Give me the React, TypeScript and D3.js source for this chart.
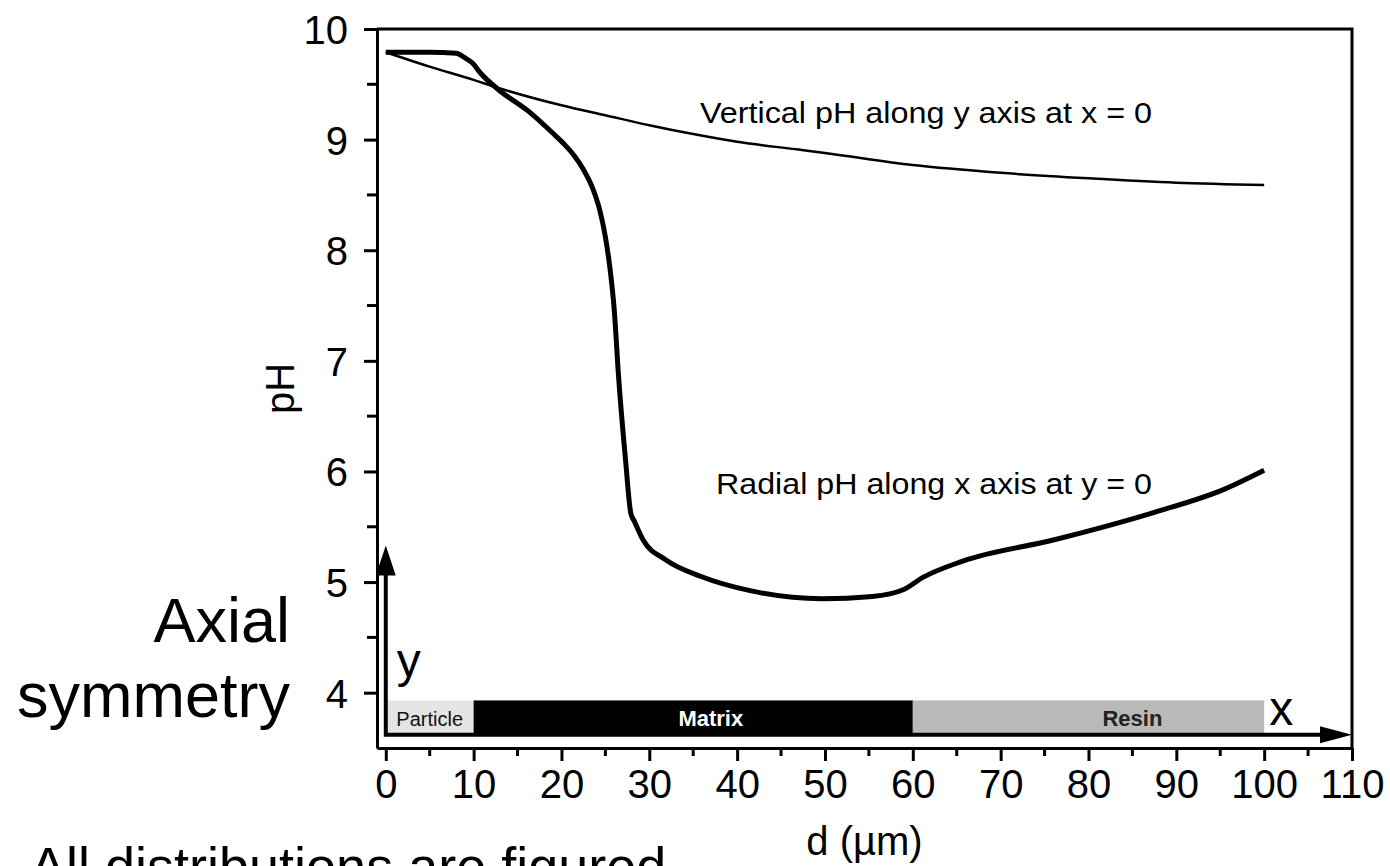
import * as d3 from 'd3';
import React, { useEffect, useRef } from 'react';

// pH along y axis at x = 0 (thin line)
const vertD = [0, 5, 10, 12.7, 20, 25, 30, 35, 40, 47, 50, 60, 70, 80, 90, 100];
const vertPH = [9.79, 9.66, 9.54, 9.47, 9.31, 9.22, 9.13, 9.05, 8.98, 8.91, 8.88, 8.77, 8.70, 8.65, 8.61, 8.59];

// pH along x axis at y = 0 (thick line)
const radD = [0, 5, 8, 9, 9.9, 10.8, 12.7, 16.5, 19, 20.3, 21.5, 22.5, 23.5, 24.4, 25, 25.5, 26, 26.5, 27.3, 27.9, 28.3, 29.3, 31.9, 35.9, 41.6, 49.7, 55.4, 58.9, 61.1, 65.7, 76, 87.5, 95.5, 100];
const radPH = [9.79, 9.79, 9.78, 9.74, 9.69, 9.60, 9.46, 9.24, 9.06, 8.96, 8.85, 8.73, 8.57, 8.35, 8.12, 7.85, 7.47, 6.86, 6.10, 5.62, 5.55, 5.38, 5.20, 5.05, 4.92, 4.85, 4.87, 4.93, 5.04, 5.19, 5.38, 5.63, 5.84, 6.01];

// material zones drawn along the bottom
const zoneNames = ['Particle', 'Matrix', 'Resin'];
const zoneStart = [0, 10, 60];
const zoneEnd = [10, 60, 100];

const xTicks = [0, 10, 20, 30, 40, 50, 60, 70, 80, 90, 100, 110];
const xMinor = [5, 15, 25, 35, 45, 55, 65, 75, 85, 95, 105];
const yTicks = [4, 5, 6, 7, 8, 9, 10];
const yMinor = [4.5, 5.5, 6.5, 7.5, 8.5, 9.5];

const App = () => {
    const ref = useRef<SVGSVGElement>(null);
    const W = 1390, H = 866;
    const margin = { top: 29, right: 38, bottom: 118, left: 377 };
    const font = "'Liberation Sans', Arial, sans-serif";

    useEffect(() => {
        const svg = d3.select(ref.current);
        svg.selectAll('*').remove();

        const x = d3.scaleLinear().domain([-1, 110]).range([margin.left, W - margin.right]);
        const y = d3.scaleLinear().domain([3.5, 10]).range([H - margin.bottom, margin.top]);

        svg.append('rect').attr('width', W).attr('height', H).attr('fill', '#fff');

        // zone bars
        const barTop = 3.93, barBot = 3.62;
        const zoneFill = ['#e4e4e4', '#000', '#b9b9b9'];
        const zoneText = ['#111', '#fff', '#222'];
        zoneNames.forEach((name, i) => {
            svg.append('rect')
                .attr('x', x(zoneStart[i]))
                .attr('y', y(barTop))
                .attr('width', x(zoneEnd[i]) - x(zoneStart[i]))
                .attr('height', y(barBot) - y(barTop))
                .attr('fill', zoneFill[i]);
        });
        // labels of zones
        const labX = [5, 37, 85];
        zoneNames.forEach((name, i) => {
            svg.append('text')
                .attr('x', x(labX[i]))
                .attr('y', y(barBot) - 9)
                .attr('text-anchor', 'middle')
                .attr('font-family', font)
                .attr('font-size', i === 0 ? 20 : 22)
                .attr('font-weight', i === 0 ? 'normal' : 'bold')
                .attr('fill', zoneText[i])
                .text(name);
        });

        // coordinate arrows (y up at x=0, x right along bottom)
        const tipY = 5.33;
        svg.append('path')
            .attr('d', d3.line()([[x(0), y(tipY) + 26], [x(0), y(barBot)], [x(110) - 28, y(barBot)]]))
            .attr('fill', 'none')
            .attr('stroke', '#000')
            .attr('stroke-width', 4);
        svg.append('path')
            .attr('d', d3.line()([[x(0), y(tipY)], [x(0) - 10, y(tipY) + 30], [x(0) + 10, y(tipY) + 30]]) + 'Z')
            .attr('fill', '#000');
        svg.append('path')
            .attr('d', d3.line()([[x(110), y(barBot)], [x(110) - 32, y(barBot) - 8.5], [x(110) - 32, y(barBot) + 8.5]]) + 'Z')
            .attr('fill', '#000');
        svg.append('text')
            .attr('x', x(0) + 11).attr('y', 677)
            .attr('font-family', font).attr('font-size', 48)
            .text('y');
        svg.append('text')
            .attr('x', x(100) + 5).attr('y', 725)
            .attr('font-family', font).attr('font-size', 48)
            .text('x');

        // curves
        const line = d3.line<[number, number]>()
            .x(d => x(d[0]))
            .y(d => y(d[1]))
            .curve(d3.curveMonotoneX);
        svg.append('path')
            .attr('d', line(vertD.map((d, i) => [d, vertPH[i]] as [number, number])))
            .attr('fill', 'none').attr('stroke', '#000').attr('stroke-width', 2.5);
        svg.append('path')
            .attr('d', line(radD.map((d, i) => [d, radPH[i]] as [number, number])))
            .attr('fill', 'none').attr('stroke', '#000').attr('stroke-width', 5)
            .attr('stroke-linejoin', 'round');

        // frame
        svg.append('path')
            .attr('d', `M${x(-1)},${y(10)}H${x(110)}V${y(3.5)}`)
            .attr('fill', 'none').attr('stroke', '#000').attr('stroke-width', 3);

        // x axis
        const gx = svg.append('g')
            .attr('transform', `translate(0,${y(3.5)})`)
            .call(d3.axisBottom(x).tickValues(xTicks).tickFormat(d3.format('d')).tickSize(13).tickSizeOuter(0).tickPadding(8));
        xMinor.forEach(v => {
            gx.append('line').attr('x1', x(v)).attr('x2', x(v)).attr('y1', 0).attr('y2', 8)
                .attr('stroke', '#000').attr('stroke-width', 3);
        });

        // y axis
        const gy = svg.append('g')
            .attr('transform', `translate(${x(-1)},0)`)
            .call(d3.axisLeft(y).tickValues(yTicks).tickFormat(d3.format('d')).tickSize(13).tickSizeOuter(0).tickPadding(16));
        yMinor.forEach(v => {
            gy.append('line').attr('x1', 0).attr('x2', -10).attr('y1', y(v)).attr('y2', y(v))
                .attr('stroke', '#000').attr('stroke-width', 3);
        });

        [gx, gy].forEach(g => {
            g.select('.domain').attr('stroke-width', 3);
            g.selectAll('.tick line').attr('stroke-width', 3);
            g.selectAll('.tick text')
                .attr('font-family', font)
                .attr('font-size', 40)
                .attr('fill', '#000');
        });
        gy.selectAll('.tick text').attr('dy', '0.36em');
        gx.selectAll('.tick text').attr('dy', '0.72em');

        // axis titles
        svg.append('text')
            .attr('x', (x(-1) + x(110)) / 2).attr('y', 855)
            .attr('text-anchor', 'middle')
            .attr('font-family', font).attr('font-size', 40)
            .text('d (µm)');
        svg.append('text')
            .attr('transform', `translate(294,${(y(3.5) + y(10)) / 2}) rotate(-90)`)
            .attr('text-anchor', 'middle')
            .attr('font-family', font).attr('font-size', 40)
            .text('pH');

        // curve annotations
        svg.append('text')
            .attr('x', 700).attr('y', 123)
            .attr('font-family', font).attr('font-size', 30)
            .attr('textLength', 452).attr('lengthAdjust', 'spacingAndGlyphs')
            .text('Vertical pH along y axis at x = 0');
        svg.append('text')
            .attr('x', 716).attr('y', 494)
            .attr('font-family', font).attr('font-size', 30)
            .attr('textLength', 436).attr('lengthAdjust', 'spacingAndGlyphs')
            .text('Radial pH along x axis at y = 0');

        // side text
        svg.append('text')
            .attr('x', 290).attr('y', 642)
            .attr('text-anchor', 'end')
            .attr('font-family', font).attr('font-size', 63)
            .text('Axial');
        svg.append('text')
            .attr('x', 290).attr('y', 717)
            .attr('text-anchor', 'end')
            .attr('font-family', font).attr('font-size', 63)
            .text('symmetry');
        // caption below the chart, cut by the bottom edge as in the source
        svg.append('text')
            .attr('x', 30).attr('y', 885)
            .attr('font-family', font).attr('font-size', 54)
            .text('All distributions are figured');
    }, []);

    return (
        <div>
            <svg ref={ref} width={W} height={H} style={{ position: 'absolute', left: 0, top: 0 }}>
            </svg>
        </div>
    );
};

export default App;
